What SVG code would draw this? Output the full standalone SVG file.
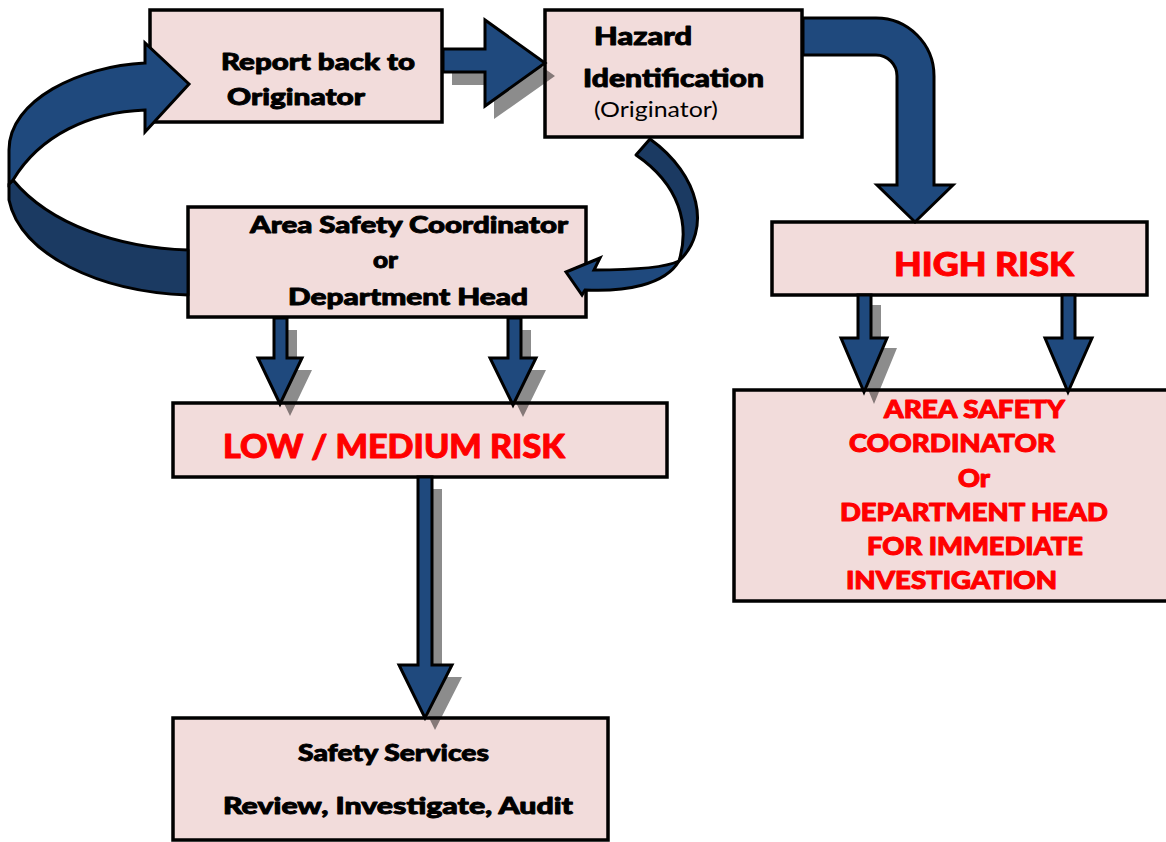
<svg xmlns="http://www.w3.org/2000/svg" width="1166" height="842" viewBox="0 0 1166 842">
<style>
.box{fill:#F2DCDB;stroke:#000;stroke-width:3.5}
.arr{fill:#1F497D;stroke:#000;stroke-width:3;stroke-linejoin:miter}
.arrd{fill:#1B3A62;stroke:#000;stroke-width:3;stroke-linejoin:round}
.sh{fill:#000;opacity:0.45}
.t{font-family:"Lato","Open Sans","DejaVu Sans",sans-serif;font-weight:900;fill:#000;stroke:#000;stroke-width:0.9;stroke-linejoin:round}
.r{font-family:"Lato","Open Sans","DejaVu Sans",sans-serif;font-weight:900;fill:#FF0000;stroke:#FF0000;stroke-width:1;stroke-linejoin:round}
.n{font-family:"Lato","Open Sans","Liberation Sans",sans-serif;font-weight:400;fill:#000}
</style>
<rect width="1166" height="842" fill="#fff"/>
<g id="report-back">
<rect class="box" x="150" y="10" width="292" height="112"/>
<text class="t" x="221" y="70" font-size="23" textLength="194" lengthAdjust="spacingAndGlyphs">Report back to</text>
<text class="t" x="227" y="105" font-size="23" textLength="138" lengthAdjust="spacingAndGlyphs">Originator</text>
</g>
<g id="hazard-identification">
<rect class="box" x="545" y="10" width="257" height="127"/>
<text class="t" x="594" y="45" font-size="24" textLength="98" lengthAdjust="spacingAndGlyphs">Hazard</text>
<text class="t" x="583" y="87" font-size="25" textLength="181" lengthAdjust="spacingAndGlyphs">Identification</text>
<text class="n" x="594" y="117" font-size="21" textLength="124" lengthAdjust="spacingAndGlyphs">(Originator)</text>
</g>
<g id="area-safety-coordinator">
<rect class="box" x="188" y="207" width="398" height="110"/>
<text class="t" x="250" y="233" font-size="23" textLength="318" lengthAdjust="spacingAndGlyphs">Area Safety Coordinator</text>
<text class="t" x="373" y="268" font-size="23" textLength="25" lengthAdjust="spacingAndGlyphs">or</text>
<text class="t" x="288" y="305" font-size="23" textLength="240" lengthAdjust="spacingAndGlyphs">Department Head</text>
</g>
<g id="high-risk">
<rect class="box" x="772" y="222" width="375" height="73"/>
<text class="r" x="894" y="276" font-size="33" textLength="180" lengthAdjust="spacingAndGlyphs">HIGH RISK</text>
</g>
<g id="low-medium-risk">
<rect class="box" x="173" y="403" width="494" height="74"/>
<text class="r" x="223" y="458" font-size="33" textLength="342" lengthAdjust="spacingAndGlyphs">LOW / MEDIUM RISK</text>
</g>
<g id="immediate-investigation">
<rect class="box" x="734" y="390" width="440" height="211"/>
<text class="r" x="884" y="418" font-size="24" textLength="181" lengthAdjust="spacingAndGlyphs">AREA SAFETY</text>
<text class="r" x="849" y="452" font-size="24" textLength="206" lengthAdjust="spacingAndGlyphs">COORDINATOR</text>
<text class="r" x="958" y="487" font-size="24" textLength="32" lengthAdjust="spacingAndGlyphs">Or</text>
<text class="r" x="840" y="521" font-size="24" textLength="268" lengthAdjust="spacingAndGlyphs">DEPARTMENT HEAD</text>
<text class="r" x="867" y="555" font-size="24" textLength="216" lengthAdjust="spacingAndGlyphs">FOR IMMEDIATE</text>
<text class="r" x="846" y="589" font-size="24" textLength="211" lengthAdjust="spacingAndGlyphs">INVESTIGATION</text>
</g>
<g id="safety-services">
<rect class="box" x="173" y="718" width="435" height="122"/>
<text class="t" x="298" y="761" font-size="23" textLength="191" lengthAdjust="spacingAndGlyphs">Safety Services</text>
<text class="t" x="223" y="814" font-size="23" textLength="350" lengthAdjust="spacingAndGlyphs">Review, Investigate, Audit</text>
</g>
<g id="connectors">
<path class="sh" d="M452,62 L494,62 L494,33 L555,76 L494,119 L494,85 L452,85 Z"/>
<path class="sh" d="M284,330 L297,330 L297,370 L312,370 L290,416 L268,370 L284,370 Z"/>
<path class="sh" d="M518,330 L531,330 L531,370 L546,370 L523,417 L500,370 L518,370 Z"/>
<path class="sh" d="M428,489 L442,489 L442,677 L462,677 L435,730 L409,677 L428,677 Z"/>
<path class="sh" d="M868,305 L881,305 L881,348 L897,348 L874,404 L851,348 L868,348 Z"/>
<path class="arrd" d="M13,180 C50,225 120,248 188,250 L188,295 C100,292 20,255 9,200 L9,184 Z"/>
<path class="arr" d="M145,63 L145,43 L189,84 L145,132 L145,110 C90,112 40,135 13,180 L9,184 L9,150 C9,100 80,66 145,63 Z"/>
<path class="arr" d="M443,49 L485,49 L485,20 L545,63 L485,106 L485,72 L443,72 Z"/>
<path class="arrd" d="M650,139 C700,175 712,230 679,261 C690,225 680,185 636,155 Z"/>
<path class="arr" d="M679,261 C665,268 630,270 594,270 L600,258 L566,272 L582,295 L585,290 C625,292 665,285 679,261 Z"/>
<path class="arr" d="M803,18 L876,18 A58,58 0 0 1 934,76 L934,185 L953,185 L915,222 L877,185 L897,185 L897,76 A21,21 0 0 0 876,55 L803,55 Z"/>
<path class="arr" d="M274,318 L287,318 L287,358 L302,358 L280,404 L258,358 L274,358 Z"/>
<path class="arr" d="M508,318 L521,318 L521,358 L536,358 L513,405 L490,358 L508,358 Z"/>
<path class="arr" d="M418,477 L432,477 L432,665 L452,665 L425,718 L399,665 L418,665 Z"/>
<path class="arr" d="M858,295 L871,295 L871,338 L887,338 L864,392 L841,338 L858,338 Z"/>
<path class="arr" d="M1062,295 L1075,295 L1075,338 L1092,338 L1068,392 L1045,338 L1062,338 Z"/>
</g>
</svg>
